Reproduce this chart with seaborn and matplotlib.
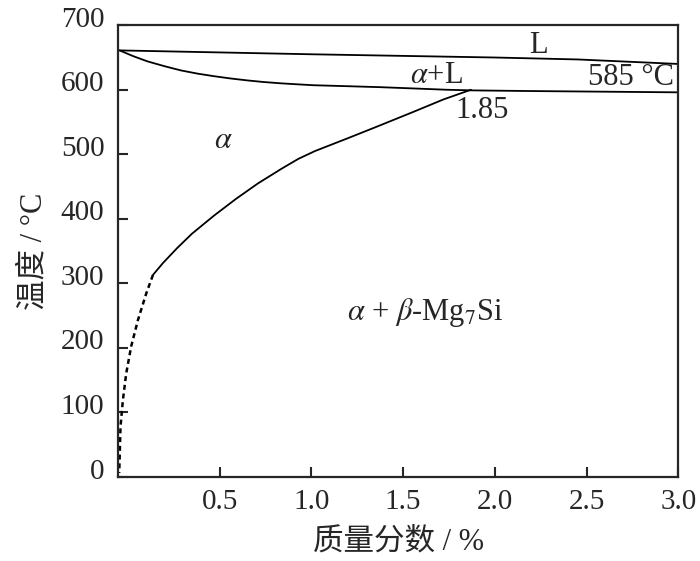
import numpy as np
import pandas as pd
import matplotlib
matplotlib.use("Agg")
import matplotlib.pyplot as plt
import matplotlib.transforms as mtransforms
import seaborn as sns

# phase boundary points (wt% Si, temperature in C)
liquidus_x = [-0.045, 1.0, 2.0, 2.45, 3.0]
liquidus_t = [661, 655, 650, 647, 640]

solidus_x = [-0.045, 0.03, 0.107, 0.20, 0.289, 0.38, 0.47, 0.56, 0.651, 0.74,
             0.833, 0.92, 1.014, 1.2, 1.377, 1.56, 1.74, 1.885, 2.2, 2.6, 3.0]
solidus_t = [661, 652, 644, 636.5, 630, 625, 621, 617.5, 614.5, 612,
             610, 608.5, 607, 605.5, 604, 602, 600, 599, 598, 597, 596]

solvus_x = [0.137, 0.19, 0.27, 0.35, 0.47, 0.59, 0.71, 0.84, 0.93, 1.02, 1.2, 1.35, 1.55, 1.72, 1.87]
solvus_t = [313, 331, 355, 377, 405, 431, 455, 478, 493, 505, 525, 542, 565, 585, 600]

solvus_dash_x = [0.137, 0.1, 0.055, 0.018, -0.009, -0.027, -0.04, -0.045, -0.047]
solvus_dash_t = [313, 284, 243, 202, 160, 119, 78, 26, 6]

x_ticks = [0.5, 1.0, 1.5, 2.0, 2.5, 3.0]
y_ticks = [0, 100, 200, 300, 400, 500, 600, 700]

sns.set_style("ticks")
plt.rcParams['font.family'] = ['Liberation Serif', 'Noto Sans CJK SC']
plt.rcParams['mathtext.fontset'] = 'stix'
plt.rcParams['axes.linewidth'] = 1.6

fig = plt.figure(figsize=(7, 5.61), dpi=100)
ax = fig.add_axes([0.169, 0.150, 0.800, 0.805])

sns.lineplot(x=liquidus_x, y=liquidus_t, sort=False, color='black', lw=1.3, ax=ax)
sns.lineplot(x=solidus_x, y=solidus_t, sort=False, color='black', lw=1.3, ax=ax)
sns.lineplot(x=solvus_x, y=solvus_t, sort=False, color='black', lw=1.3, ax=ax)
sns.lineplot(x=solvus_dash_x, y=solvus_dash_t, sort=False, color='black', lw=1.8,
             linestyle=(0, (2.0, 1.5)), ax=ax)

ax.set_xlim(-0.052, 3.0)
ax.set_ylim(0, 700)
ax.set_xticks(x_ticks)
ax.set_xticklabels([f"{v:.1f}" for v in x_ticks])
ax.set_yticks(y_ticks)
ax.tick_params(direction='in', length=7, width=1.5, labelsize=21, pad=9)
ax.tick_params(axis='y', pad=10)

# tick labels on the y axis sit a little above their ticks in the original
offset = mtransforms.ScaledTranslation(0, 6 / 72, fig.dpi_scale_trans)
for lab in ax.get_yticklabels():
    lab.set_transform(lab.get_transform() + offset)

ax.set_xlabel("质量分数 / %", fontsize=22, labelpad=9)
ax.set_ylabel("温度 / °C", fontsize=22, labelpad=9)

ax.text(2.24, 669, "L", fontsize=22, ha='center', va='center')
ax.text(1.68, 622, r"$\alpha$+L", fontsize=22, ha='center', va='center')
ax.text(2.74, 619, "585 °C", fontsize=22, ha='center', va='center')
ax.text(1.93, 568, "1.85", fontsize=22, ha='center', va='center')
ax.text(0.52, 522, r"$\alpha$", fontsize=22, ha='center', va='center')
ax.text(1.62, 254, r"$\alpha$ + $\beta$-Mg$_7$Si", fontsize=22, ha='center', va='center')

plt.savefig("out.png", dpi=100)
